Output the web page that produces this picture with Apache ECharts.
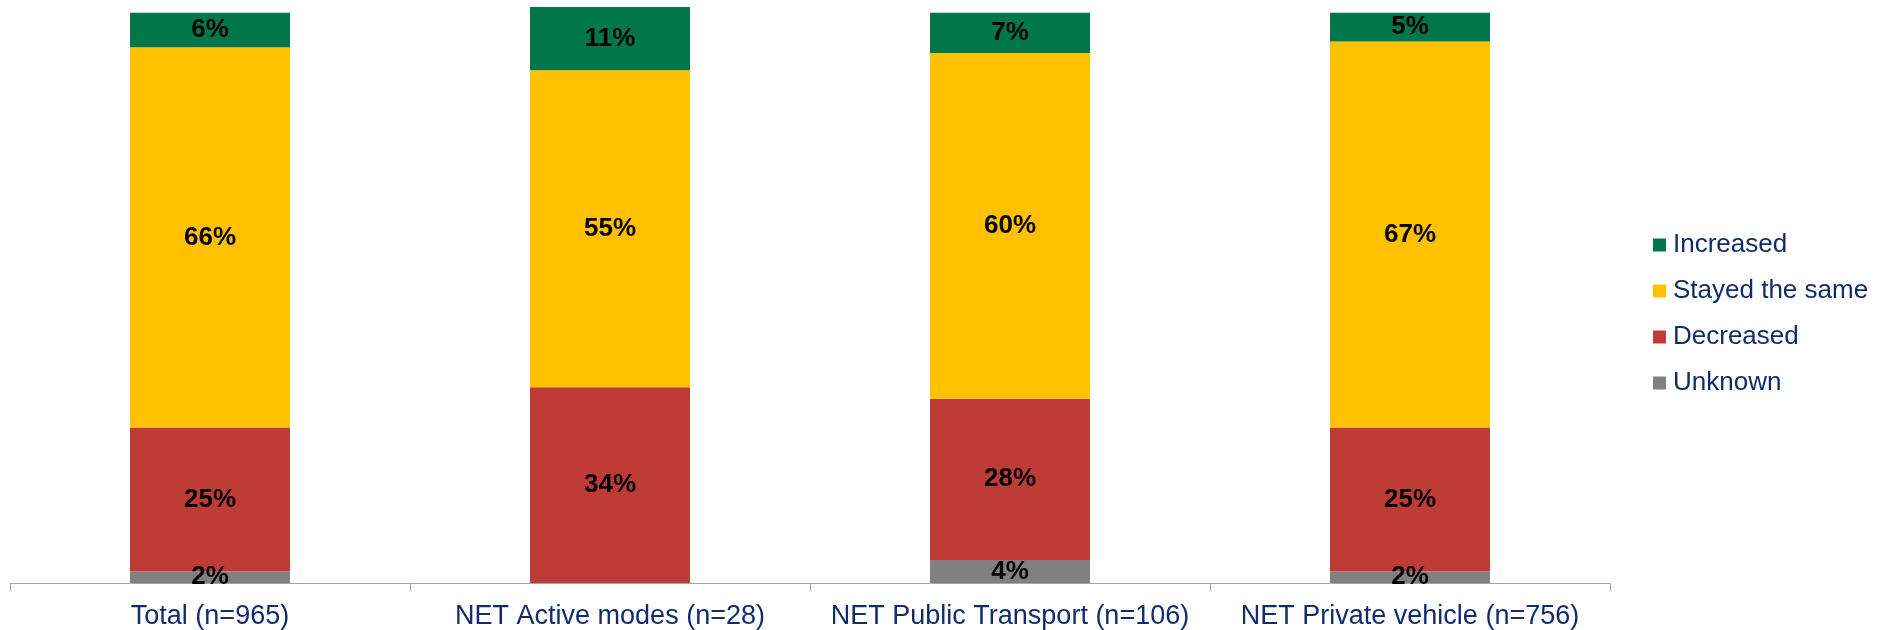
<!DOCTYPE html>
<html>
<head>
<meta charset="utf-8">
<title>Change by main travel mode</title>
<script src="https://cdn.jsdelivr.net/npm/echarts@6/dist/echarts.min.js"></script>
<style>
  html, body { margin: 0; padding: 0; background: #ffffff; }
  #chart { width: 1877px; height: 630px; }
</style>
</head>
<body>
<div id="chart"></div>
<script>
// Groups along the x axis
const categories = [
  'Total (n=965)',
  'NET Active modes (n=28)',
  'NET Public Transport (n=106)',
  'NET Private vehicle (n=756)'
];

// Shares per group, in percent (stacked bottom to top)
const unknown   = [2, 0, 4, 2];
const decreased = [25, 34, 28, 25];
const stayed    = [66, 55, 60, 67];
const increased = [6, 11, 7, 5];

// Legend order, top to bottom
const legendOrder = ['Increased', 'Stayed the same', 'Decreased', 'Unknown'];

const navy = '#112C6C';

function stackSeries(name, values, color) {
  return {
    name: name,
    type: 'bar',
    stack: 'share',
    barWidth: '40%',
    data: values,
    itemStyle: { color: color },
    label: {
      show: true,
      position: 'inside',
      color: '#000000',
      fontFamily: 'Liberation Sans, Arial, sans-serif',
      fontWeight: 'bold',
      fontSize: 26,
      formatter: p => (p.value > 0 ? p.value + '%' : '')
    },
    emphasis: { disabled: true }
  };
}

const chart = echarts.init(document.getElementById('chart'), null, { renderer: 'canvas' });

chart.setOption({
  animation: false,
  backgroundColor: '#ffffff',
  grid: { left: 10, right: 267, top: 7, bottom: 47, containLabel: false },
  legend: {
    orient: 'vertical',
    left: 1648,
    top: 227,
    itemWidth: 13,
    itemHeight: 13,
    itemGap: 20,
    icon: 'rect',
    data: legendOrder,
    textStyle: {
      color: navy,
      fontFamily: 'Liberation Sans, Arial, sans-serif',
      fontSize: 26,
      lineHeight: 26,
      padding: [0, 0, 0, 2]
    }
  },
  xAxis: {
    type: 'category',
    data: categories,
    axisLine: { show: true, lineStyle: { color: '#A6A6A6', width: 1 } },
    axisTick: { show: true, length: 8, lineStyle: { color: '#A6A6A6' } },
    axisLabel: {
      color: navy,
      fontFamily: 'Liberation Sans, Arial, sans-serif',
      fontSize: 27,
      margin: 20,
      interval: 0
    }
  },
  yAxis: {
    type: 'value',
    min: 0,
    max: 100,
    show: false,
    splitLine: { show: false }
  },
  series: [
    stackSeries('Unknown', unknown, '#808080'),
    stackSeries('Decreased', decreased, '#BE3B36'),
    stackSeries('Stayed the same', stayed, '#FFC000'),
    stackSeries('Increased', increased, '#00774A')
  ]
});
</script>
</body>
</html>
